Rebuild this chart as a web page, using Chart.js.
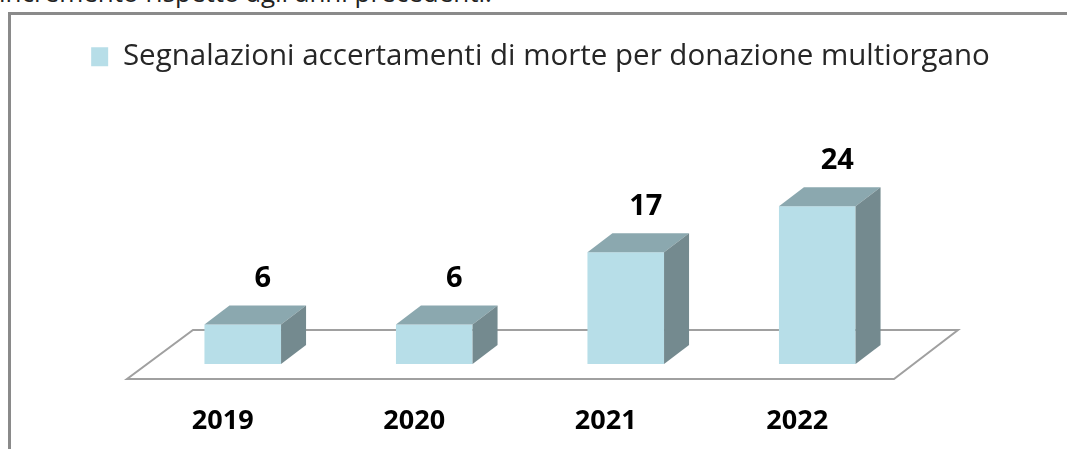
<!DOCTYPE html>
<html>
<head>
<meta charset="utf-8">
<script src="https://cdn.jsdelivr.net/npm/chart.js@4.4.1/dist/chart.umd.min.js"></script>
<style>
  html, body { margin: 0; padding: 0; background: #fff; overflow: hidden; width: 1067px; height: 449px; }
  #intro { position: absolute; left: -1px; top: -23px; font: 26px "Open Sans", sans-serif; color: #222; white-space: nowrap; line-height: 30px; }
  #frame { position: absolute; left: 8px; top: 12px; width: 1100px; height: 500px; border-top: 3px solid #8a8a8a; border-left: 3px solid #8a8a8a; }
  #chart { position: absolute; left: 0; top: 0; }
</style>
</head>
<body>
<div id="intro">incremento rispetto agli anni precedenti.</div>
<div id="frame"></div>
<canvas id="chart" width="1067" height="449"></canvas>
<script>
// data
const years = ['2019', '2020', '2021', '2022'];
const segnalazioni = [6, 6, 17, 24];
const seriesLabel = 'Segnalazioni accertamenti di morte per donazione multiorgano';

const faceFront = '#b7dee8';
const faceTop = '#8ba8af';
const faceSide = '#748a8f';
const dx = 25, dy = -19; // depth of the 3d boxes

// floor + 3d faces + value labels
const box3d = {
    id: 'box3d',
    beforeDatasetsDraw(chart) {
        const {ctx, chartArea: a} = chart;
        ctx.save();
        ctx.beginPath();
        ctx.moveTo(a.left - 20, a.bottom + 15);
        ctx.lineTo(a.right - 19, a.bottom + 15);
        ctx.lineTo(a.right + 45, a.bottom - 34);
        ctx.lineTo(a.left + 46, a.bottom - 34);
        ctx.closePath();
        ctx.fillStyle = '#fff';
        ctx.fill();
        ctx.strokeStyle = '#a0a0a0';
        ctx.lineWidth = 2;
        ctx.stroke();
        ctx.restore();
    },
    afterDatasetsDraw(chart) {
        const ctx = chart.ctx;
        const meta = chart.getDatasetMeta(0);
        ctx.save();
        meta.data.forEach((bar, i) => {
            const {x, y, base, width} = bar.getProps(['x', 'y', 'base', 'width'], true);
            const l = x - width / 2, r = x + width / 2;
            // top face
            ctx.fillStyle = faceTop;
            ctx.beginPath();
            ctx.moveTo(l, y);
            ctx.lineTo(r, y);
            ctx.lineTo(r + dx, y + dy);
            ctx.lineTo(l + dx, y + dy);
            ctx.closePath();
            ctx.fill();
            // side face
            ctx.fillStyle = faceSide;
            ctx.beginPath();
            ctx.moveTo(r, y);
            ctx.lineTo(r + dx, y + dy);
            ctx.lineTo(r + dx, base + dy);
            ctx.lineTo(r, base);
            ctx.closePath();
            ctx.fill();
            // value
            ctx.fillStyle = '#000';
            ctx.font = 'bold 29px "Open Sans"';
            ctx.textAlign = 'center';
            ctx.textBaseline = 'middle';
            ctx.fillText(segnalazioni[i], x + 20, y - 46);
        });
        ctx.restore();
    }
};

new Chart(document.getElementById('chart'), {
    type: 'bar',
    data: {
        labels: years,
        datasets: [{
            label: seriesLabel,
            data: segnalazioni,
            backgroundColor: faceFront,
            borderWidth: 0,
            categoryPercentage: 1,
            barPercentage: 0.4
        }]
    },
    options: {
        responsive: false,
        animation: false,
        layout: {padding: {left: 14, right: 0, top: 32, bottom: 0}},
        plugins: {
            tooltip: {enabled: false},
            legend: {
                labels: {
                    boxWidth: 17,
                    boxHeight: 19,
                    padding: 10,
                    color: '#262626',
                    font: {family: 'Open Sans', size: 29.5}
                }
            }
        },
        scales: {
            x: {
                grid: {display: false, drawTicks: false},
                border: {display: false},
                ticks: {
                    color: '#000',
                    font: {family: 'Open Sans', size: 27, weight: 'bold'},
                    padding: 41,
                    labelOffset: -20
                },
                afterFit(s) { s.height = 85; }
            },
            y: {
                min: 0,
                max: 43,
                grid: {display: false},
                border: {display: false},
                ticks: {display: false},
                afterFit(s) { s.width = 133; }
            },
            y2: {
                position: 'right',
                grid: {display: false},
                border: {display: false},
                ticks: {display: false},
                afterFit(s) { s.width = 154; }
            }
        }
    },
    plugins: [box3d]
});
</script>
</body>
</html>
